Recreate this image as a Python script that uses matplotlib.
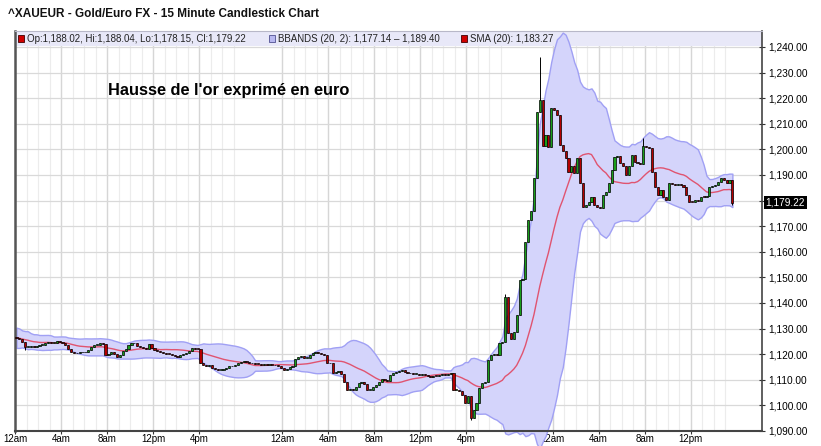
import numpy as np
import pandas as pd
import matplotlib
matplotlib.use('Agg')
import matplotlib.pyplot as plt
from matplotlib.patches import Rectangle
import matplotlib.transforms as mtransforms

# 15 minute closes (one value per bar)
closes = [
    1126.3, 1125.8, 1124.8, 1122.8, 1122.8, 1123.2, 1123.0, 1123.2, 1123.5, 1123.5,
    1124.5, 1124.8, 1124.4, 1124.5, 1125.0, 1124.8, 1124.5, 1123.5, 1122.2, 1120.9,
    1120.5, 1120.3, 1120.7, 1121.0, 1120.7, 1121.5, 1122.8, 1123.5, 1123.5, 1124.2,
    1123.9, 1119.6, 1119.9, 1121.0, 1120.2, 1118.9, 1119.6, 1121.2, 1122.2, 1123.5,
    1124.2, 1124.5, 1123.2, 1123.0, 1122.6, 1122.2, 1123.8, 1122.4, 1121.6, 1121.1,
    1120.8, 1120.5, 1120.2, 1120.0, 1119.6, 1119.3, 1119.0, 1119.6, 1120.2, 1120.5,
    1121.4, 1122.4, 1122.2, 1122.0, 1116.4, 1115.6, 1115.3, 1115.6, 1114.6, 1114.2,
    1113.7, 1114.0, 1114.4, 1114.8, 1115.2, 1115.5, 1115.6, 1116.4, 1117.0, 1117.2,
    1116.8, 1116.6, 1116.4, 1116.3, 1116.1, 1115.9, 1116.0, 1115.8, 1115.9, 1115.8,
    1115.6, 1115.3, 1114.5, 1113.8, 1114.2, 1115.1, 1115.4, 1118.0, 1118.8, 1119.3,
    1118.4, 1118.5, 1119.7, 1120.6, 1121.0, 1120.6, 1120.2, 1119.7, 1116.4, 1116.7,
    1112.5, 1113.1, 1113.3, 1112.4, 1109.3, 1106.0, 1106.3, 1106.2, 1107.3, 1108.6,
    1109.3, 1108.4, 1106.0, 1106.2, 1107.3, 1108.0, 1109.3, 1110.2, 1109.8, 1109.4,
    1111.9, 1112.5, 1113.2, 1113.5, 1113.8, 1113.2, 1112.5, 1112.6, 1112.2, 1112.3,
    1112.0, 1112.3, 1112.0, 1111.4, 1111.2, 1111.6, 1111.5, 1111.8, 1112.2, 1111.8,
    1112.4, 1112.6, 1106.0, 1106.2, 1105.7, 1104.1, 1100.8, 1103.7, 1095.0, 1098.2,
    1100.8, 1106.7, 1108.6, 1109.0, 1117.7, 1119.7, 1120.2, 1119.8, 1124.3, 1124.9,
    1142.5, 1128.2, 1125.8, 1128.5, 1135.3, 1149.0, 1149.2, 1164.0, 1172.4, 1176.0,
    1188.8, 1214.6, 1219.3, 1201.3, 1205.5, 1201.0, 1216.0, 1215.2, 1213.4, 1201.7,
    1199.5, 1196.5, 1191.3, 1193.4, 1190.7, 1196.5, 1186.8, 1177.6, 1178.3, 1179.6,
    1181.5, 1178.3, 1177.6, 1177.0, 1182.2, 1183.5, 1186.8, 1192.0, 1197.2, 1197.4,
    1194.6, 1193.4, 1190.0, 1193.4, 1197.8, 1195.2, 1194.6, 1194.4, 1201.3, 1201.0,
    1200.4, 1191.3, 1185.5, 1182.2, 1184.1, 1181.5, 1180.2, 1186.8, 1186.6, 1186.2,
    1186.5, 1186.2, 1185.5, 1182.2, 1179.6, 1179.4, 1180.2, 1180.0, 1181.5, 1181.3,
    1181.7, 1185.5, 1185.8, 1186.2, 1187.4, 1188.7, 1188.0, 1186.8, 1188.02, 1179.22,
]
first_open = 1126.8
# closes before the first visible bar (needed for the 20 bar indicators)
warmup = [1129.0, 1130.4, 1128.6, 1127.2, 1129.6, 1128.0, 1125.4, 1126.8, 1124.6, 1123.8,
          1124.2, 1126.0, 1127.4, 1125.2, 1123.6, 1123.4, 1125.0, 1127.0, 1126.6]

# bars with visible wicks
wick_idx = [3, 158, 170, 182, 218, 249]
wick_hi = [1124.8, 1103.7, 1143.4, 1236.0, 1204.6, 1188.04]
wick_lo = [1121.5, 1094.2, 1124.9, 1214.6, 1194.4, 1178.15]

tick_pos = [0, 16, 32, 48, 64, 93, 109, 125, 141, 157, 187, 203, 219, 235]
tick_labels = ['12am', '4am', '8am', '12pm', '4pm', '12am', '4am', '8am', '12pm', '4pm',
               '12am', '4am', '8am', '12pm']
price_levels = list(range(1090, 1250, 10))

title = '^XAUEUR - Gold/Euro FX - 15 Minute Candlestick Chart'
note = "Hausse de l'or exprimé en euro"
ohlc_txt = 'Op:1,188.02, Hi:1,188.04, Lo:1,178.15, Cl:1,179.22'
bb_txt = 'BBANDS (20, 2): 1,177.14 \u2013 1,189.40'
sma_txt = 'SMA (20): 1,183.27'
last_price = 1179.22

n = len(closes)
x = np.arange(n)
c = np.array(closes)
o = np.concatenate([[first_open], c[:-1]])
hi = np.maximum(o, c)
lo = np.minimum(o, c)
for k, h, l in zip(wick_idx, wick_hi, wick_lo):
    hi[k] = h
    lo[k] = l

full = pd.Series(warmup + closes)
sma = full.rolling(20).mean().values[len(warmup):]
sd = full.rolling(20).std(ddof=0).values[len(warmup):]
upper = sma + 2 * sd
lower = sma - 2 * sd

plt.rcParams['font.family'] = ['Liberation Sans', 'DejaVu Sans']

fig = plt.figure(figsize=(8.21, 4.46), dpi=100)
ax = fig.add_axes([15 / 821, 1 - 431 / 446, 747 / 821, 400 / 446])
ax.set_xlim(-0.5, 259.3)
ax.set_ylim(1090, 1246.25)

# grid
for p in tick_pos:
    for m in range(1, 4):
        ax.axvline(p - 0.5 + 4 * m, color='#ececec', lw=0.8, zorder=0)
    ax.axvline(p - 0.5, color='#d6d6d6', lw=1.0, zorder=0)
for lev in price_levels:
    ax.axhline(lev, color='#d9d9d9', lw=0.9, zorder=0)

# legend strip
ax.add_patch(Rectangle((0, 1 - 15 / 400), 1, 15 / 400, transform=ax.transAxes,
                       facecolor='#e8e8f8', edgecolor='none', zorder=1))

# bollinger band and sma
ax.fill_between(x, lower, upper, facecolor='#d4d4fb', edgecolor='#a0a0f4', lw=1.0,
                zorder=2, clip_on=False)
ax.plot(x, sma, color='#e05470', lw=1.0, zorder=3)

# candles
up = c >= o
ax.vlines(x, lo, hi, color='black', lw=0.7, zorder=4)
body_h = np.maximum(np.abs(c - o), 0.35)
ax.bar(x[up], body_h[up], bottom=np.minimum(o, c)[up], width=0.75,
       color='#1a9e1a', edgecolor='black', lw=0.5, zorder=5)
ax.bar(x[~up], body_h[~up], bottom=np.minimum(o, c)[~up], width=0.75,
       color='#b40000', edgecolor='black', lw=0.5, zorder=5)

# axes styling
ax.yaxis.tick_right()
ax.set_yticks(price_levels)
# the 1,180 label sits under the last price tag
ax.set_yticklabels(['' if v == 1180 else '{:,.2f}'.format(v) for v in price_levels])
ax.set_xticks([p - 0.5 for p in tick_pos])
ax.set_xticklabels(tick_labels)
ax.tick_params(axis='y', direction='inout', length=5, width=0.8, labelsize=7.3,
               pad=2, colors='#333333')
ax.tick_params(axis='x', direction='out', length=2, width=0.8, labelsize=7.0,
               pad=0.5, colors='#333333')
for lab in ax.get_yticklabels() + ax.get_xticklabels():
    lab.set_color('black')
ax.spines['left'].set_color('#555555')
ax.spines['left'].set_linewidth(1.8)
ax.spines['bottom'].set_color('#444444')
ax.spines['bottom'].set_linewidth(1.5)
ax.spines['right'].set_color('#444444')
ax.spines['right'].set_linewidth(1.2)
ax.spines['top'].set_color('#b8b8c8')
ax.spines['top'].set_linewidth(0.8)

# last price tag
trans = mtransforms.blended_transform_factory(ax.transAxes, ax.transData)
ax.text(1.005, last_price, '{:,.2f}'.format(last_price), transform=trans, color='white',
        fontsize=7.3, va='center', ha='left',
        bbox=dict(boxstyle='square,pad=0.15', facecolor='black', edgecolor='none'), zorder=10)

# legend contents
ly = 1 - 7.5 / 400
for px, fc, ec, txt in [(21, '#d00000', '#400000', ohlc_txt),
                        (272, '#b8b8f0', '#505090', bb_txt),
                        (464, '#d00000', '#400000', sma_txt)]:
    ax.add_patch(Rectangle(((px - 15 - 3) / 747, ly - 3.5 / 400), 6 / 747, 7 / 400,
                           transform=ax.transAxes, facecolor=fc, edgecolor=ec, lw=0.6,
                           zorder=6))
    ax.text((px - 15 + 6) / 747, ly, txt, transform=ax.transAxes, fontsize=7.0,
            va='center', ha='left', color='#222222', zorder=6)

fig.text(8 / 821, 1 - 14 / 446, title, fontsize=8.5, fontweight='bold', va='center',
         ha='left', color='#111111')
fig.text(108 / 821, 1 - 90 / 446, note, fontsize=11.8, fontweight='bold', va='center',
         ha='left', color='black')

fig.savefig('out.png', dpi=100)
